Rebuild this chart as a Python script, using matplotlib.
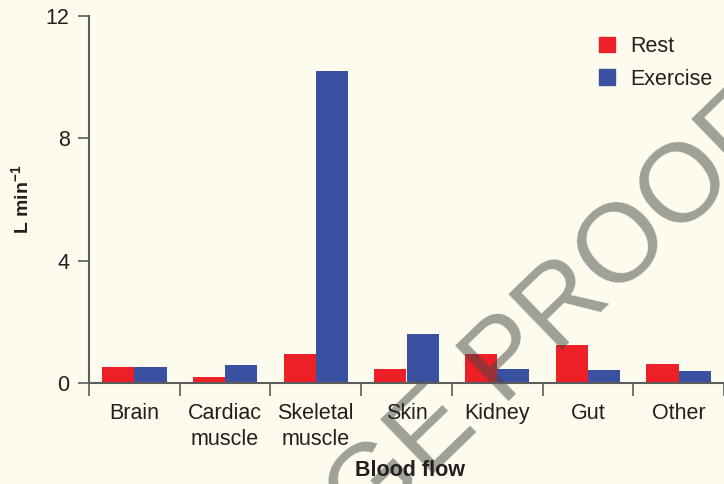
"""
blood flow at rest and during exercise
"""

from matplotlib import pyplot as plt
from matplotlib.patches import Patch
import matplotlib
import numpy as np

# data (L/min)
organs = ["Brain", "Cardiac\nmuscle", "Skeletal\nmuscle", "Skin", "Kidney", "Gut", "Other"]
rest = [0.53, 0.20, 0.96, 0.47, 0.96, 1.25, 0.63]
exercise = [0.53, 0.60, 10.2, 1.61, 0.47, 0.43, 0.40]
y_ticks = [0, 4, 8, 12]

bg = '#fdfbed'
red = '#ed1f27'
blue = '#3a51a2'
txt = '#231f20'
axc = '#5c5c5c'

matplotlib.rc('font', family='Liberation Sans')
matplotlib.rcParams['mathtext.fontset'] = 'custom'
matplotlib.rcParams['mathtext.rm'] = 'Liberation Sans'
matplotlib.rcParams['mathtext.bf'] = 'Liberation Sans:bold'

fig = plt.figure(figsize=(7.24, 4.84), dpi=100, facecolor=bg)
ax = fig.add_axes([89 / 724, 100.7 / 484, 1 - 89 / 724, 367.6 / 484])
ax.set_facecolor(bg)

x = np.arange(len(organs))
w = 0.355
ax.bar(x - w / 2, rest, w, color=red, label='Rest')
ax.bar(x + w / 2, exercise, w, color=blue, label='Exercise')

ax.set_xlim(-0.5, -0.5 + 635 / 91.6)
ax.set_ylim(0, 12)

for s in ['top', 'right']:
    ax.spines[s].set_visible(False)
for s in ['left', 'bottom']:
    ax.spines[s].set_color(axc)
    ax.spines[s].set_linewidth(1.5)

ax.set_yticks(y_ticks)
ax.tick_params(axis='y', length=8, width=1.2, color=axc, pad=6, labelsize=15.5, labelcolor=txt)

ax.set_xticks(x)
ax.set_xticklabels(organs, linespacing=1.3)
ax.set_xticks(np.arange(len(organs) + 1) - 0.5, minor=True)
ax.tick_params(axis='x', which='major', length=0, pad=14, labelsize=15.5, labelcolor=txt)
ax.tick_params(axis='x', which='minor', length=9, width=1.2, color=axc)

fig.text(410 / 724, 13 / 484, "Blood flow", ha='center', va='center',
         fontsize=15.5, fontweight='bold', color=txt)
fig.text(22 / 724, 1 - 199 / 484, r"L min$^{\mathbf{-1}}$", rotation=90,
         ha='center', va='center', fontsize=14, fontweight='bold', color=txt)

handles = [Patch(color=red, label='Rest'), Patch(color=blue, label='Exercise')]
ax.legend(handles=handles, loc='upper left', bbox_to_anchor=(599 / 724, 1 - 36 / 484),
          bbox_transform=fig.transFigure, frameon=False, fontsize=15.5,
          handlelength=0.75, handleheight=0.75, handletextpad=0.68,
          labelspacing=0.55, borderpad=0, borderaxespad=0, labelcolor=txt)

# watermark
ax.text(506 / 724, 1 - 364 / 484, "PAGE PROOF", transform=fig.transFigure,
        rotation=44, rotation_mode='anchor', ha='center', va='center',
        fontsize=80, color='#434444', alpha=0.5, zorder=1.2, clip_on=False)

plt.savefig("out.png", dpi=100, facecolor=bg)
